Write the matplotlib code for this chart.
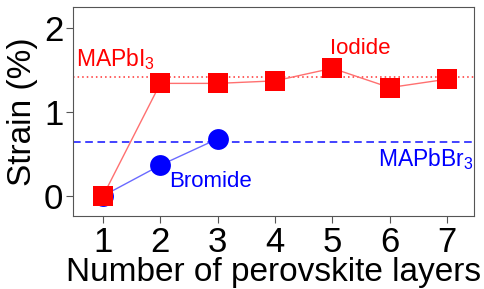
import matplotlib
matplotlib.use("Agg")
import matplotlib.pyplot as plt

layers_iodide = [1, 2, 3, 4, 5, 6, 7]
strain_iodide = [0.0, 1.34, 1.34, 1.37, 1.52, 1.29, 1.39]
layers_bromide = [1, 2, 3]
strain_bromide = [0.0, 0.365, 0.68]
bulk_mapbi3 = 1.42
bulk_mapbbr3 = 0.645

plt.rcParams["font.family"] = ["Liberation Sans", "DejaVu Sans"]
plt.rcParams["mathtext.fontset"] = "custom"
plt.rcParams["mathtext.rm"] = "Liberation Sans"
plt.rcParams["mathtext.it"] = "Liberation Sans:italic"

fig = plt.figure(figsize=(4.84, 2.89), dpi=100)
ax = fig.add_axes([73 / 484, 1 - 216 / 289, 401 / 484, 209 / 289])

ax.axhline(bulk_mapbi3, color="#ff3030", linestyle=(0, (1, 2)), linewidth=1.1)
ax.axhline(bulk_mapbbr3, color="#1010ff", linestyle=(0, (5, 3)), linewidth=1.1)

ax.plot(layers_bromide, strain_bromide, "-", color="#6a6aff", linewidth=1, zorder=3)
ax.plot(layers_bromide, strain_bromide, "o", color="#0000ff", markersize=15,
        markeredgewidth=0, zorder=3)
ax.plot(layers_iodide, strain_iodide, "-", color="#ff7070", linewidth=1, zorder=4)
ax.plot(layers_iodide, strain_iodide, "s", color="#ff0000", markersize=14.5,
        markeredgewidth=0, zorder=5)

ax.text(0.52, bulk_mapbi3 + 0.06, r"MAPbI$_\mathrm{3}$", color="#ff0000", fontsize=16.5,
        va="bottom", ha="left")
ax.text(7.46, bulk_mapbbr3 - 0.05, r"MAPbBr$_\mathrm{3}$", color="#0000ff", fontsize=16.5,
        va="top", ha="right")
ax.text(5.49, 1.75, "Iodide", color="#ff0000", fontsize=16, ha="center", va="center")
ax.text(2.88, 0.17, "Bromide", color="#0000ff", fontsize=16, ha="center", va="center")

ax.set_xlim(0.476, 7.47)
ax.set_ylim(-0.24, 2.25)
ax.set_xticks(layers_iodide)
ax.set_yticks([0, 1, 2])
ax.tick_params(labelsize=25, length=5, color="#555555", pad=2)
for s in ax.spines.values():
    s.set_color("#555555")
ax.set_xlabel("Number of perovskite layers", fontsize=24, labelpad=-1)
ax.set_ylabel("Strain (%)", fontsize=24, labelpad=4)

fig.savefig("out.png", dpi=100)
